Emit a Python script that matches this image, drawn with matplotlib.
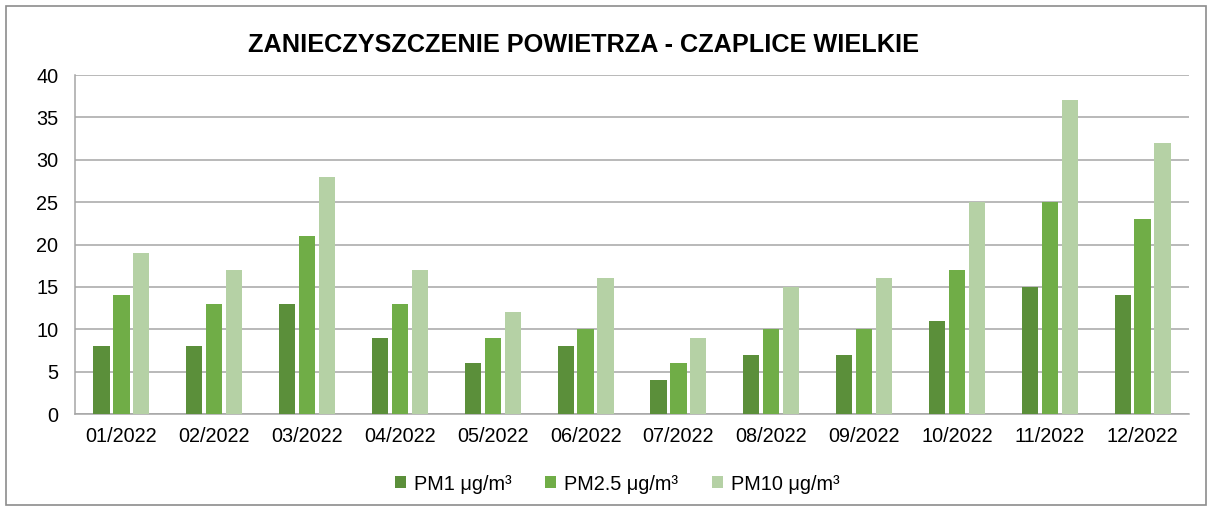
import numpy as np
import matplotlib.pyplot as plt
from matplotlib.patches import Rectangle

months = ["01/2022", "02/2022", "03/2022", "04/2022", "05/2022", "06/2022",
          "07/2022", "08/2022", "09/2022", "10/2022", "11/2022", "12/2022"]
pm1 = [8, 8, 13, 9, 6, 8, 4, 7, 7, 11, 15, 14]
pm25 = [14, 13, 21, 13, 9, 10, 6, 10, 10, 17, 25, 23]
pm10 = [19, 17, 28, 17, 12, 16, 9, 15, 16, 25, 37, 32]
labels = ["PM1 μg/m³", "PM2.5 μg/m³", "PM10 μg/m³"]
colors = ["#5B8F3A", "#70AD47", "#B5D1A5"]

plt.rcParams['font.family'] = ['Liberation Sans', 'DejaVu Sans']

fig = plt.figure(figsize=(12.12, 5.11), dpi=100)
ax = fig.add_axes([75 / 1212, 1 - 414 / 511, (1189 - 75) / 1212, (414 - 75) / 511])

x = np.arange(len(months))
w = 0.175
step = 0.215
for i, (vals, lab, c) in enumerate(zip([pm1, pm25, pm10], labels, colors)):
    ax.bar(x + (i - 1) * step, vals, w, color=c, label=lab, zorder=3)

ax.set_xlim(-0.5, len(months) - 0.5)
ax.set_ylim(0, 40)
ax.set_yticks(range(0, 41, 5))
ax.set_xticks(x)
ax.set_xticklabels(months)
ax.tick_params(axis='both', length=0, labelsize=14.3, colors='#000000')
ax.tick_params(axis='x', pad=9)
ax.tick_params(axis='y', pad=12)
ax.grid(axis='y', color='#A6A6A6', linewidth=1.1, zorder=0)
for s in ['top', 'right']:
    ax.spines[s].set_visible(False)
for s in ['left', 'bottom']:
    ax.spines[s].set_color('#A6A6A6')
    ax.spines[s].set_linewidth(1.1)

fig.text(583 / 1212, 1 - 45 / 511, "ZANIECZYSZCZENIE POWIETRZA - CZAPLICE WIELKIE",
         ha='center', va='center', fontsize=18.2, fontweight='bold')

fig.legend(loc='center', bbox_to_anchor=(617 / 1212, 1 - 484 / 511), ncol=3,
           frameon=False, fontsize=14.3, handlelength=0.55, handleheight=0.55,
           handletextpad=0.4, columnspacing=1.7)

fig.patches.append(Rectangle((6 / 1212, 6 / 511), 1200 / 1212, 499 / 511,
                             transform=fig.transFigure, fill=False,
                             edgecolor='#8C8C8C', linewidth=1.2))

fig.savefig("out.png", dpi=100)
